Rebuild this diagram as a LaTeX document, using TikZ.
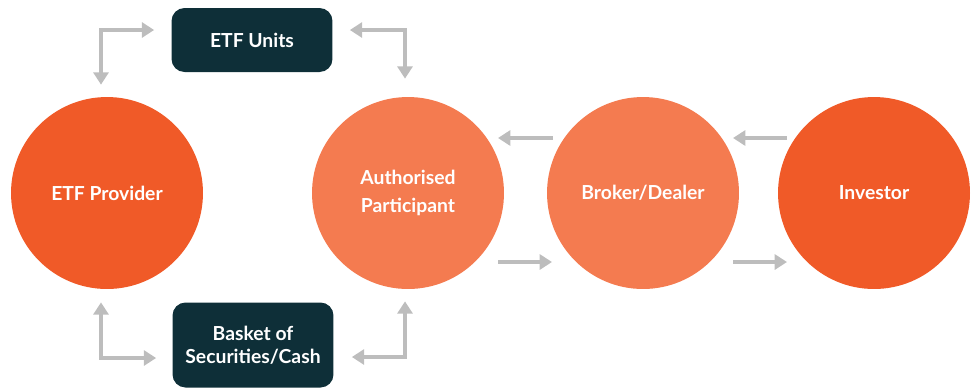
\documentclass[tikz,border=0pt]{standalone}
\usepackage{fontspec}
\setmainfont{Lato}[BoldFont={Lato Bold}]
\usepackage{tikz}
\usetikzlibrary{arrows.meta,positioning}

\definecolor{deeporange}{HTML}{F05A28}
\definecolor{softorange}{HTML}{F47B50}
\definecolor{darkteal}{HTML}{0E2F38}
\definecolor{arrowgrey}{HTML}{BDBDBD}

\tikzset{
  party/.style={circle,minimum size=3.84cm,inner sep=0pt,text=white,
    font=\bfseries\fontsize{11}{13.5}\selectfont,align=center},
  holder/.style={rounded corners=0.26cm,fill=darkteal,text=white,
    minimum width=3.22cm,inner sep=0pt,
    font=\bfseries\fontsize{11}{13}\selectfont,align=center},
  flow/.style={draw=arrowgrey,line width=2.4pt,
    -{Triangle[length=7pt,width=8.5pt]}},
  swap/.style={draw=arrowgrey,line width=2.4pt,
    {Triangle[length=7pt,width=8.5pt]}-{Triangle[length=7pt,width=8.5pt]}}
}

\begin{document}
\begin{tikzpicture}[x=0.02cm,y=-0.02cm]

\useasboundingbox (0,0) rectangle (972,390);

% the four parties
\node[party,fill=deeporange] (prov) at (107,193) {ETF Provider};
\node[party,fill=softorange] (ap) at (408,193) {Authorised\\[2pt]Participant};
\node[party,fill=softorange] (broker) at (643,193) {Broker/Dealer};
\node[party,fill=deeporange] (inv) at (874,193) {Investor};

% what is exchanged
\node[holder,minimum height=1.28cm] (units) at (252,40) {ETF Units};
\node[holder,minimum height=1.7cm] (basket) at (253,345) {Basket of\\Securities/Cash};

% creation / redemption
\draw[swap] ([shift={(-6,-12)}]prov.north) |- ([shift={(-17,-10)}]units.west);
\draw[swap] ([shift={(17,-10)}]units.east) -| ([shift={(-3,-18)}]ap.north);
\draw[swap] ([shift={(-6,13)}]prov.south) |- ([shift={(-16,13)}]basket.west);
\draw[swap] ([shift={(18,12)}]basket.east) -| ([shift={(-3,12)}]ap.south);

% secondary market
\draw[flow] ([shift={(-90,-55)}]broker.center) -- ([shift={(90,-55)}]ap.center);
\draw[flow] ([shift={(-87,-55)}]inv.center) -- ([shift={(90,-55)}]broker.center);
\draw[flow] ([shift={(90,69)}]ap.center) -- ([shift={(-91,69)}]broker.center);
\draw[flow] ([shift={(90,69)}]broker.center) -- ([shift={(-87,69)}]inv.center);

\end{tikzpicture}
\end{document}
